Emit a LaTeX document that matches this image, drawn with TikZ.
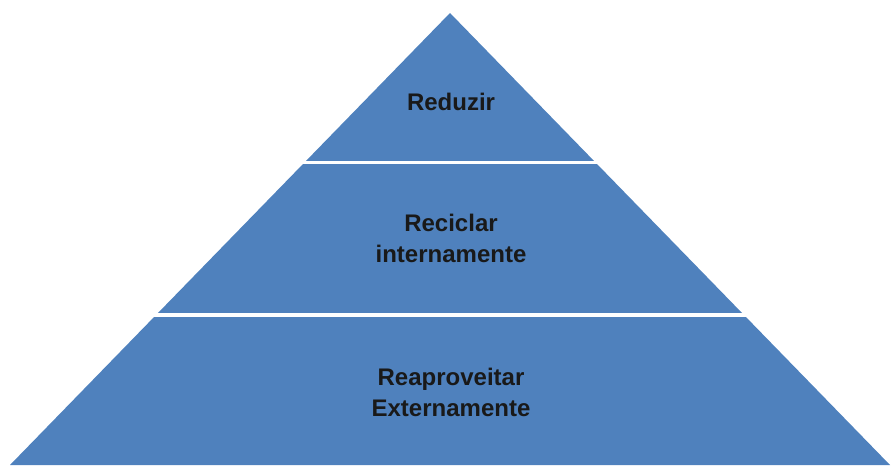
\documentclass[tikz,border=0pt]{standalone}
\usepackage{fontspec}
\setmainfont{Liberation Sans}
\definecolor{pyrblue}{HTML}{4F81BD}

\begin{document}
\begin{tikzpicture}[x=1pt,y=-1pt,
  levtext/.style={font=\bfseries\fontsize{24}{31}\selectfont, align=center, text=black!90}]
\useasboundingbox (0,0) rectangle (893,471);
% Draw the pyramid
\fill[pyrblue] (450,13) -- (890,465) -- (10,465) -- cycle;

% White gaps between the levels
\draw[white, line width=3.5] (280,162.5) -- (620,162.5);
\draw[white, line width=3.5] (130,315) -- (770,315);

% Level texts
\node[levtext] (reduzir) at (451,102) {Reduzir};
\node[levtext] (reciclar) at (451,238) {Reciclar\\internamente};
\node[levtext] (reaproveitar) at (451,392) {Reaproveitar\\Externamente};
\end{tikzpicture}
\end{document}
